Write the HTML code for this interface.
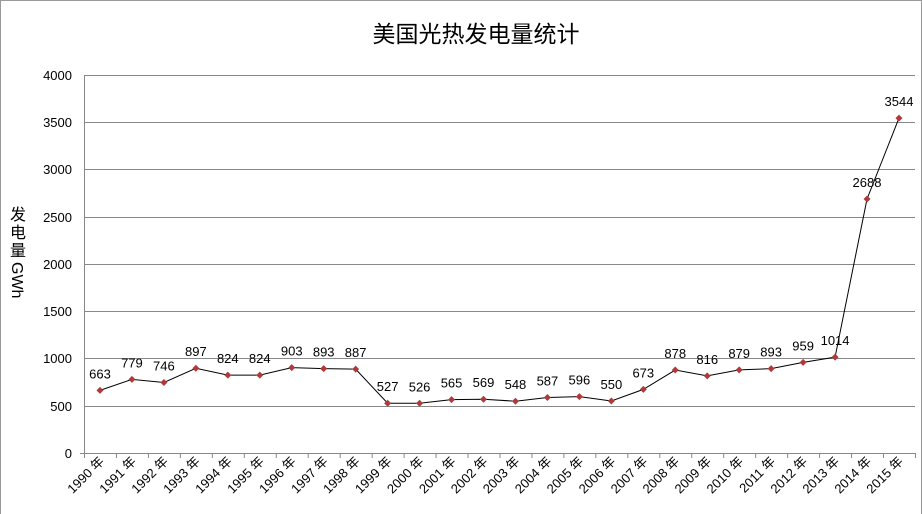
<!DOCTYPE html>
<html><head><meta charset="utf-8"><style>
body{margin:0;background:#fff}
svg{display:block}
text{font-family:"Liberation Sans","Noto Sans CJK SC",sans-serif;}
</style></head><body>
<svg width="922" height="514" viewBox="0 0 922 514" xmlns="http://www.w3.org/2000/svg">
<rect x="0.5" y="0.5" width="921" height="520" fill="#fff" stroke="#999"/>
<text x="476" y="42" font-size="23" text-anchor="middle" fill="#000">美国光热发电量统计</text>
<g stroke="#888" stroke-width="1">
<line x1="84" y1="75.5" x2="915" y2="75.5"/>
<line x1="84" y1="122.5" x2="915" y2="122.5"/>
<line x1="84" y1="169.5" x2="915" y2="169.5"/>
<line x1="84" y1="217.5" x2="915" y2="217.5"/>
<line x1="84" y1="264.5" x2="915" y2="264.5"/>
<line x1="84" y1="311.5" x2="915" y2="311.5"/>
<line x1="84" y1="358.5" x2="915" y2="358.5"/>
<line x1="84" y1="406.5" x2="915" y2="406.5"/>
<line x1="80" y1="453.5" x2="915" y2="453.5"/>
<line x1="84.5" y1="75" x2="84.5" y2="453"/>
</g>
<g font-size="13" text-anchor="end" fill="#000">
<text x="72" y="80">4000</text><text x="72" y="127">3500</text><text x="72" y="174">3000</text>
<text x="72" y="222">2500</text><text x="72" y="269">2000</text><text x="72" y="316">1500</text>
<text x="72" y="363">1000</text><text x="72" y="411">500</text><text x="72" y="458">0</text>
</g>
<g font-size="16" fill="#000" text-anchor="middle">
<text x="18" y="220">发</text><text x="18" y="238">电</text><text x="18" y="256">量</text>
<text transform="translate(12,262) rotate(90)" text-anchor="start">GWh</text>
</g>
<g id="ticks" stroke="#888"></g>
<g id="lab" font-size="13" fill="#000"></g>
<polyline id="ln" fill="none" stroke="#000" stroke-width="1"/>
<g id="pts"></g>
<script>
var v=[663,779,746,897,824,824,903,893,887,527,526,565,569,548,587,596,550,673,878,816,879,893,959,1014,2688,3544];
var ns="http://www.w3.org/2000/svg",pts=[],tk=document.getElementById('ticks'),lb=document.getElementById('lab'),pg=document.getElementById('pts');
for(var k=0;k<=26;k++){var x=84.5+k*31.96;var l=document.createElementNS(ns,'line');l.setAttribute('x1',x);l.setAttribute('x2',x);l.setAttribute('y1',453);l.setAttribute('y2',458);tk.appendChild(l);}
for(var i=0;i<26;i++){var x=84+31.96*(i+0.5),y=453-v[i]*378/4000;pts.push(x+','+y);
var d=document.createElementNS(ns,'path');d.setAttribute('d','M'+x+' '+(y-3.5)+'L'+(x+3.5)+' '+y+'L'+x+' '+(y+3.5)+'L'+(x-3.5)+' '+y+'Z');d.setAttribute('fill','#b03a3a');pg.appendChild(d);
var t=document.createElementNS(ns,'text');t.setAttribute('x',x);t.setAttribute('y',y-12);t.setAttribute('text-anchor','middle');t.textContent=v[i];lb.appendChild(t);
var a=document.createElementNS(ns,'text');a.setAttribute('transform','translate('+(x+5)+',462) rotate(-45)');a.setAttribute('text-anchor','end');a.textContent=(1990+i)+' 年';lb.appendChild(a);}
document.getElementById('ln').setAttribute('points',pts.join(' '));
</script>
</svg>
</body></html>
